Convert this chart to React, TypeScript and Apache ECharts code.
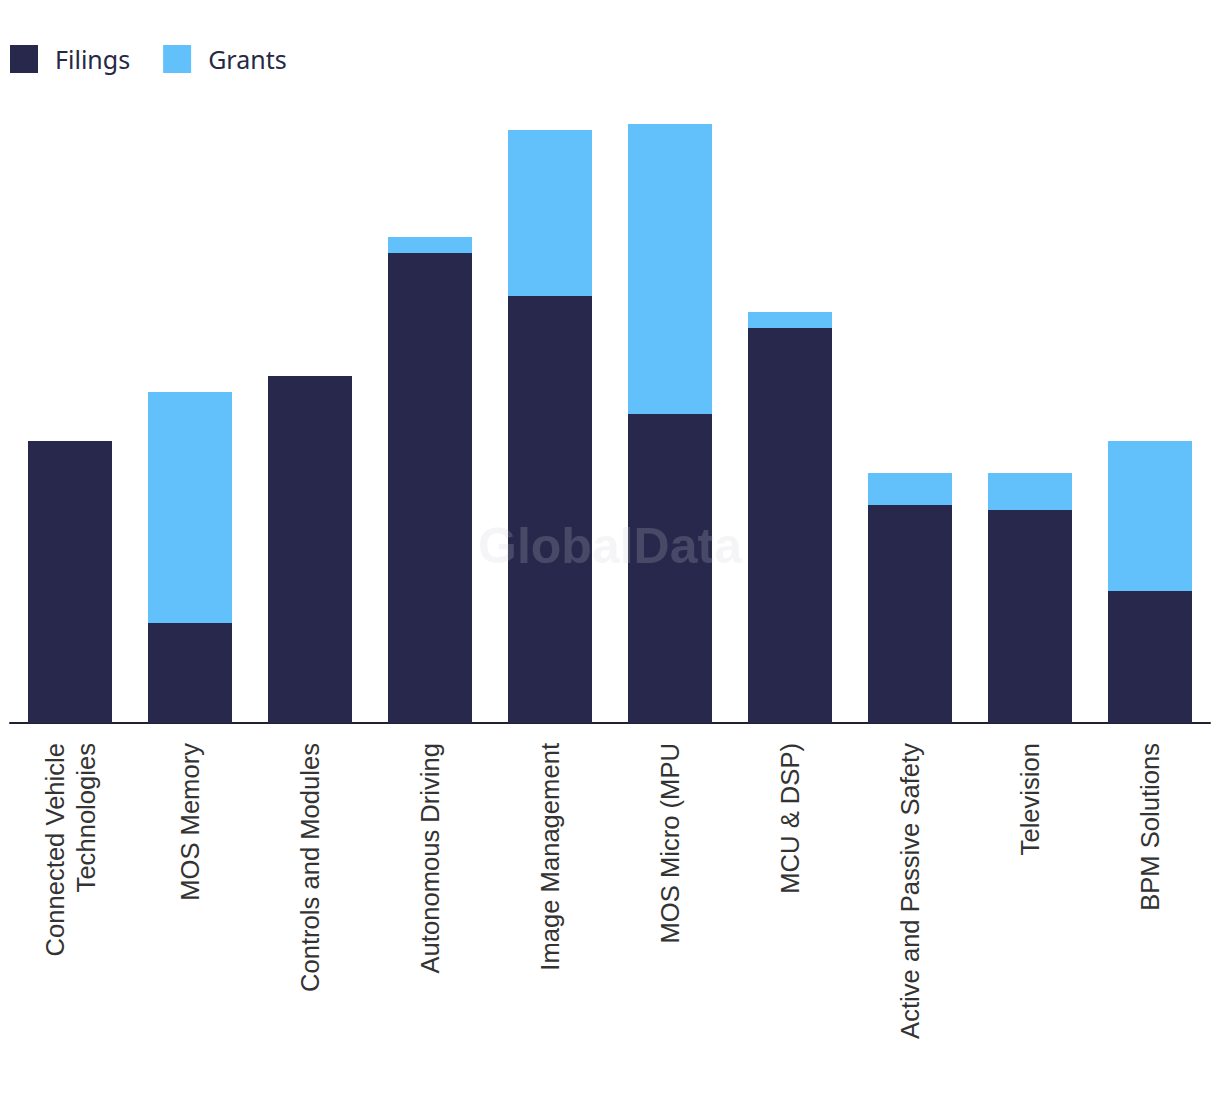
import React, { useEffect, useRef } from "react";
import * as echarts from "echarts";

const categories = [
  "Connected Vehicle\nTechnologies",
  "MOS Memory",
  "Controls and Modules",
  "Autonomous Driving",
  "Image Management",
  "MOS Micro (MPU",
  "MCU & DSP)",
  "Active and Passive Safety",
  "Television",
  "BPM Solutions",
];
const filings = [282, 100, 347, 470, 427, 309, 395, 218, 213, 132];
const grants = [0, 231, 0, 16, 166, 290, 16, 32, 37, 150];

const NAVY = "#27284b";
const BLUE = "#62c1fa";

export default function App() {
  const ref = useRef<HTMLDivElement>(null);
  useEffect(() => {
    document.body.style.margin = "0";
    const chart = echarts.init(ref.current!, null, { renderer: "svg" });
    chart.setOption({
      animation: false,
      backgroundColor: "#ffffff",
      legend: {
        left: 10,
        top: 45,
        padding: 0,
        icon: "rect",
        itemWidth: 28,
        itemHeight: 28,
        itemGap: 33,
        textStyle: {
          fontFamily: "Noto Sans",
          fontSize: 25,
          color: "#262845",
          padding: [0, 0, 4, 12],
        },
        data: ["Filings", "Grants"],
      },
      grid: { left: 10, right: 10, top: 123, bottom: 371, containLabel: false },
      xAxis: {
        type: "category",
        data: categories,
        axisTick: { show: false },
        axisLine: { show: true, lineStyle: { color: "#1f2033", width: 2 } },
        axisLabel: {
          rotate: 90,
          margin: 20,
          interval: 0,
          fontFamily: "Liberation Sans",
          fontSize: 25.6,
          lineHeight: 31,
          color: "#333333",
        },
      },
      yAxis: {
        type: "value",
        min: 0,
        max: 600,
        show: false,
        splitLine: { show: false },
      },
      graphic: [
        {
          type: "text",
          left: "center",
          top: 521,
          z: 100,
          style: {
            text: "GlobalData",
            fontFamily: "Liberation Sans",
            fontWeight: "bold",
            fontSize: 50,
            fill: "rgba(203,203,215,0.2)",
          },
        },
      ],
      series: [
        {
          name: "Filings",
          type: "bar",
          stack: "total",
          data: filings,
          barWidth: "70%",
          itemStyle: { color: NAVY },
        },
        {
          name: "Grants",
          type: "bar",
          stack: "total",
          data: grants,
          barWidth: "70%",
          itemStyle: { color: BLUE },
        },
      ],
    });
    return () => chart.dispose();
  }, []);
  return <div ref={ref} style={{ width: 1220, height: 1094 }} />;
}
